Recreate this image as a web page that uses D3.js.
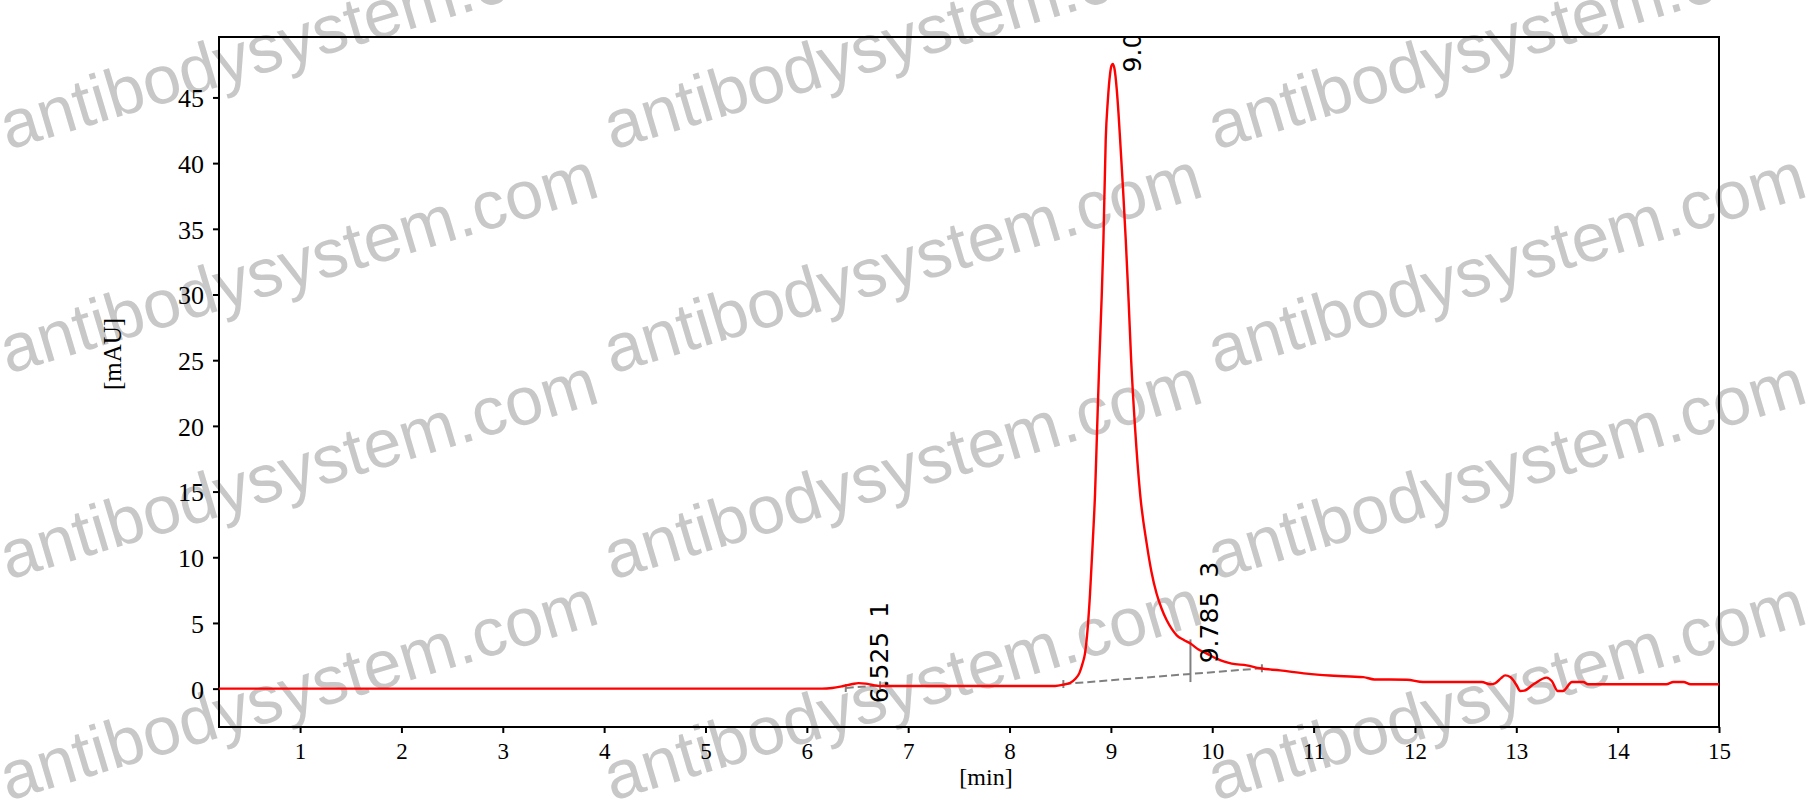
<!DOCTYPE html>
<html>
<head>
<meta charset="utf-8">
<script src="https://cdn.jsdelivr.net/npm/d3@7"></script>
<style>
  html, body { margin: 0; padding: 0; background: #ffffff; }
  svg { display: block; }
</style>
</head>
<body>
<svg id="chart" width="1812" height="805"></svg>
<script>
// ---------------- data ----------------
const timeMin = [0.2, 6.15, 6.25, 6.36, 6.45, 6.51, 6.58, 6.65, 6.72, 8.45, 8.53, 8.6, 8.65, 8.69, 8.72, 8.745, 8.77, 8.794, 8.82, 8.844, 8.865, 8.886, 8.91, 8.926, 8.949, 8.97, 8.992, 9.005, 9.018, 9.035, 9.058, 9.075, 9.091, 9.12, 9.147, 9.175, 9.2, 9.238, 9.288, 9.354, 9.40, 9.452, 9.5, 9.551, 9.6, 9.65, 9.72, 9.785, 9.86, 9.946, 10.044, 10.12, 10.192, 10.34, 10.47, 10.67, 10.93, 11.16, 11.36, 11.49, 11.6, 11.92, 12.08, 12.66, 12.74, 12.79, 12.85, 12.89, 12.94, 13.0, 13.04, 13.08, 13.17, 13.30, 13.35, 13.41, 13.46, 13.55, 13.66, 13.71, 14.48, 14.55, 14.65, 14.72, 15.0];
const signalMAU = [0, 0, 0.05, 0.2, 0.35, 0.42, 0.38, 0.28, 0.2, 0.2, 0.3, 0.45, 0.75, 1.2, 1.9, 2.7, 4.5, 7.2, 11, 14.9, 20, 25, 30, 34, 41.8, 44.8, 46.8, 47.4, 47.55, 47.2, 45.6, 43.8, 41.8, 38, 34.1, 29.5, 25, 19.9, 14.85, 11.0, 8.9, 7.2, 6.1, 5.2, 4.55, 4.06, 3.7, 3.43, 3.0, 2.67, 2.28, 2.05, 1.9, 1.77, 1.55, 1.39, 1.14, 1.0, 0.92, 0.88, 0.7, 0.68, 0.5, 0.5, 0.33, 0.4, 0.8, 1.01, 0.89, 0.3, -0.18, -0.15, 0.33, 0.84, 0.58, -0.18, -0.18, 0.5, 0.5, 0.33, 0.33, 0.5, 0.5, 0.33, 0.33];

const xTicks = [1, 2, 3, 4, 5, 6, 7, 8, 9, 10, 11, 12, 13, 14, 15];
const yTicks = [0, 5, 10, 15, 20, 25, 30, 35, 40, 45];
const xLabel = "[min]";
const yLabel = "[mAU]";

// integration baselines
const baselineStartT = [6.384, 8.531];
const baselineStartV = [0.05, 0.35];
const baselineEndT = [6.723, 10.49];
const baselineEndV = [0.25, 1.55];

// perpendicular drop line
const dropT = [9.785];
const dropTopV = [3.75];
const dropBottomV = [0.5];

// peak labels
const peakRT = [6.525, 9.018, 9.785];
const peakText = ["6.525", "9.0", "9.785"];
const peakNumber = ["1", "", "3"];
const peakLabelV = [-1.12, 46.9, 1.93];

const watermarkText = "antibodysystem.com";

// ---------------- drawing ----------------
(function () {
const svg = d3.select("#chart");
const pL = 219, pR = 1719, pT = 37, pB = 727;

const x = d3.scaleLinear().domain([0.2, 15]).range([pL, pR]);
const y = d3.scaleLinear().domain([-2.92, 49.6]).range([pB, pT]);

// watermark (behind everything)
const wm = svg.append("g");
const wmX = [8, 612, 1216];
const wmY = [150, 374, 580, 801];
wmY.forEach(wy => wmX.forEach(wx => {
  wm.append("text")
    .attr("transform", `translate(${wx},${wy}) rotate(-16.7)`)
    .attr("font-family", "'Liberation Sans', Arial, sans-serif")
    .attr("font-size", 68)
    .attr("fill", "#c8c8c8")
    .text(watermarkText);
}));

svg.append("defs").append("clipPath").attr("id", "plotclip")
  .append("rect").attr("x", pL).attr("y", pT)
  .attr("width", pR - pL).attr("height", pB - pT);

// axes
const yAxis = svg.append("g")
  .attr("transform", `translate(${pL},0)`)
  .call(d3.axisLeft(y).tickValues(yTicks).tickSize(6).tickPadding(9).tickFormat(d3.format("d")));
yAxis.select(".domain").remove();
yAxis.selectAll("line").attr("stroke", "#000").attr("stroke-width", 2);
yAxis.selectAll("text")
  .attr("font-family", "'Liberation Serif', 'Times New Roman', serif")
  .attr("font-size", 26).attr("fill", "#000").attr("dy", "0.36em");

const xAxis = svg.append("g")
  .attr("transform", `translate(0,${pB})`)
  .call(d3.axisBottom(x).tickValues(xTicks).tickSize(6).tickPadding(10).tickFormat(d3.format("d")));
xAxis.select(".domain").remove();
xAxis.selectAll("line").attr("stroke", "#000").attr("stroke-width", 2);
xAxis.selectAll("text")
  .attr("font-family", "'Liberation Serif', 'Times New Roman', serif")
  .attr("font-size", 23).attr("fill", "#000");

// frame
svg.append("rect")
  .attr("x", pL).attr("y", pT)
  .attr("width", pR - pL).attr("height", pB - pT)
  .attr("fill", "none").attr("stroke", "#000").attr("stroke-width", 2);

// axis titles
svg.append("text")
  .attr("x", 986).attr("y", 785)
  .attr("text-anchor", "middle")
  .attr("font-family", "'Liberation Serif', 'Times New Roman', serif")
  .attr("font-size", 24).attr("fill", "#000")
  .text(xLabel);
svg.append("text")
  .attr("transform", "translate(121,354) rotate(-90)")
  .attr("text-anchor", "middle")
  .attr("font-family", "'Liberation Serif', 'Times New Roman', serif")
  .attr("font-size", 25).attr("fill", "#000")
  .text(yLabel);

const plot = svg.append("g").attr("clip-path", "url(#plotclip)");

// baselines
const grey = "#808080";
baselineStartT.forEach((t0, i) => {
  plot.append("line")
    .attr("x1", x(t0)).attr("y1", y(baselineStartV[i]))
    .attr("x2", x(baselineEndT[i])).attr("y2", y(baselineEndV[i]))
    .attr("stroke", grey).attr("stroke-width", 2).attr("stroke-dasharray", "8,4");
  [[t0, baselineStartV[i]], [baselineEndT[i], baselineEndV[i]]].forEach(([t, v]) => {
    plot.append("line")
      .attr("x1", x(t)).attr("x2", x(t))
      .attr("y1", y(v) - 4).attr("y2", y(v) + 4)
      .attr("stroke", grey).attr("stroke-width", 2);
  });
});
dropT.forEach((t, i) => {
  plot.append("line")
    .attr("x1", x(t)).attr("x2", x(t))
    .attr("y1", y(dropTopV[i])).attr("y2", y(dropBottomV[i]))
    .attr("stroke", grey).attr("stroke-width", 2);
});

// chromatogram
const pts = timeMin.map((t, i) => [t, signalMAU[i]]);
plot.append("path")
  .datum(pts)
  .attr("fill", "none")
  .attr("stroke", "#ff0000")
  .attr("stroke-width", 2.4)
  .attr("stroke-linejoin", "round")
  .attr("d", d3.line().x(d => x(d[0])).y(d => y(d[1])).curve(d3.curveMonotoneX));

// peak labels
peakRT.forEach((t, i) => {
  const tx = plot.append("text")
    .attr("transform", `translate(${x(t) + 28},${y(peakLabelV[i])}) rotate(-90)`)
    .attr("font-family", "'DejaVu Sans', sans-serif")
    .attr("font-size", 25).attr("fill", "#000");
  tx.append("tspan").text(peakText[i]);
  if (peakNumber[i]) tx.append("tspan").attr("dx", 6).text(" " + peakNumber[i]);
});
})();
</script>
</body>
</html>
